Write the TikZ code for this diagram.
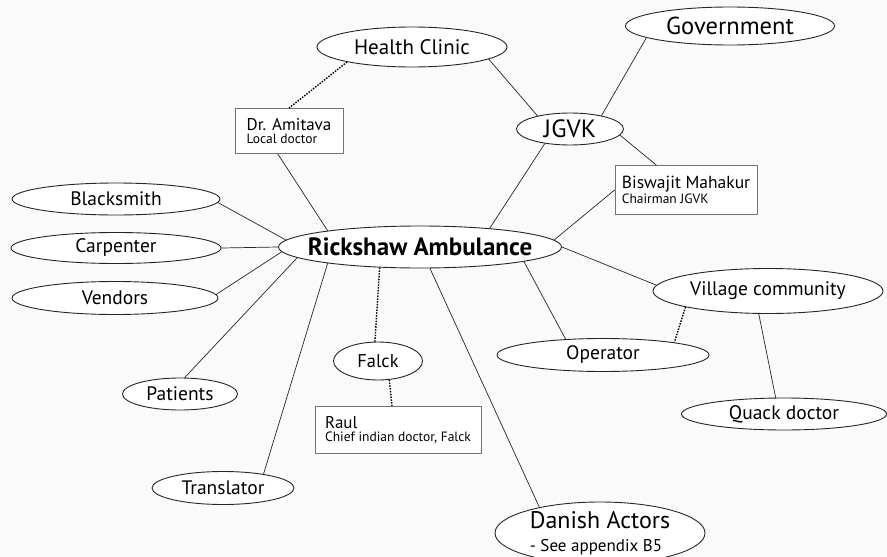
\documentclass[tikz,border=0pt]{standalone}
\usepackage{fontspec}
\setmainfont{PT Sans}
\usetikzlibrary{shapes.geometric}
\definecolor{paper}{HTML}{FAFAFA}
\newcommand\personlabel[3]{{\fontsize{#3}{#3}\selectfont #1}\\[1pt]{\fontsize{13.5}{15}\selectfont #2}}

\begin{document}
\begin{tikzpicture}
  [x=1pt,y=-1pt,line cap=round,
   % Styles
   actor/.style={ellipse,draw=black!85,fill=white,line width=0.9pt,inner sep=0pt,
     font=\fontsize{19.5}{22}\selectfont},
   person/.style={rectangle,draw=black!55,fill=white,line width=0.9pt,inner sep=0pt,
     align=left},
   link/.style={line width=0.7pt,draw=black!85},
   weak link/.style={draw=black,line width=1.4pt,line cap=butt,
     dash pattern=on 1.5pt off 1.3pt}]

  % Background
  \fill[paper] (0,0) rectangle (887,557);
  \useasboundingbox (0,0) rectangle (887,557);

  % The hub
  \node[actor,minimum width=283pt,minimum height=42pt,inner xsep=-13pt,
    font=\fontsize{25}{28}\selectfont\bfseries] (ra) at (420,247) {Rickshaw Ambulance};

  % Upper part
  \node[actor,minimum width=190pt,minimum height=40pt,font=\fontsize{21}{23}\selectfont]
    (hc) at (412,47) {Health Clinic};
  \node[actor,minimum width=209pt,minimum height=38pt,font=\fontsize{24.5}{26}\selectfont]
    (gov) at (730,26) {Government};
  \node[actor,minimum width=107pt,minimum height=32pt,inner ysep=-2pt,
    font=\fontsize{25}{27}\selectfont] (jg) at (570,129) {JGVK};
  \node[person,minimum width=108pt,minimum height=45pt] (dra) at (289,131)
    {\personlabel{Dr. Amitava}{Local doctor}{17}};
  \node[person,minimum width=142pt,minimum height=49pt] (bis) at (686,190)
    {\personlabel{Biswajit Mahakur}{Chairman JGVK}{17.5}};

  % Left side
  \node[actor,minimum width=208pt,minimum height=32pt] (bl) at (116,199) {Blacksmith};
  \node[actor,minimum width=210pt,minimum height=31pt] (ca) at (116,248) {Carpenter};
  \node[actor,minimum width=206pt,minimum height=33pt] (ve) at (115,298) {Vendors};
  \node[actor,minimum width=115pt,minimum height=32pt] (pa) at (180,394) {Patients};
  \node[actor,minimum width=142pt,minimum height=33pt] (tr) at (223,488) {Translator};

  % Lower part
  \node[actor,minimum width=89pt,minimum height=38pt,font=\fontsize{18.5}{21}\selectfont]
    (fa) at (378,361) {Falck};
  \node[person,minimum width=166pt,minimum height=47pt] (raul) at (398,430)
    {\personlabel{Raul}{Chief indian doctor, Falck}{17}};
  \node[actor,minimum width=210pt,minimum height=62pt,align=left] (da) at (600,533)
    {{\fontsize{24}{24}\selectfont Danish Actors}\\[1pt]{\fontsize{17}{18}\selectfont - See appendix B5}};

  % Right side
  \node[actor,minimum width=230pt,minimum height=45pt] (vc) at (768,291) {Village community};
  \node[actor,minimum width=212pt,minimum height=33pt] (op) at (603,355) {Operator};
  \node[actor,minimum width=205pt,minimum height=32pt] (qd) at (784,414) {Quack doctor};

  % Connections
  \draw[link] (hc.-9) -- (jg.158);
  \draw[weak link] (hc.193) -- (dra.north);
  \draw[link] (dra.244) -- (ra.170);
  \draw[link] (jg.23) -- (gov.188);
  \draw[link] (jg.-7) -- (bis.140);
  \draw[link] (jg.210) -- (ra.15);
  \draw[link] (bis.west) -- (ra.3);
  \draw[link] (bl.-2) -- (ra.177);
  \draw[link] (ca.east) -- (ra.west);
  \draw[link] (ve.2) -- (ra.182);
  \draw[link] (pa.74) -- (ra.185);
  \draw[link] (tr.19) -- (ra.190);
  \draw[weak link] (ra.207) -- (fa.99);
  \draw[weak link] (fa.-59) -- (raul.104);
  \draw[link] (ra.-65) -- (da.157);
  \draw[link] (ra.-8) -- (op.157);
  \draw[link] (ra.east) -- (vc.177);
  \draw[weak link] (vc.191) -- (op.10);
  \draw[link] (vc.248) -- (qd.117);
\end{tikzpicture}
\end{document}
